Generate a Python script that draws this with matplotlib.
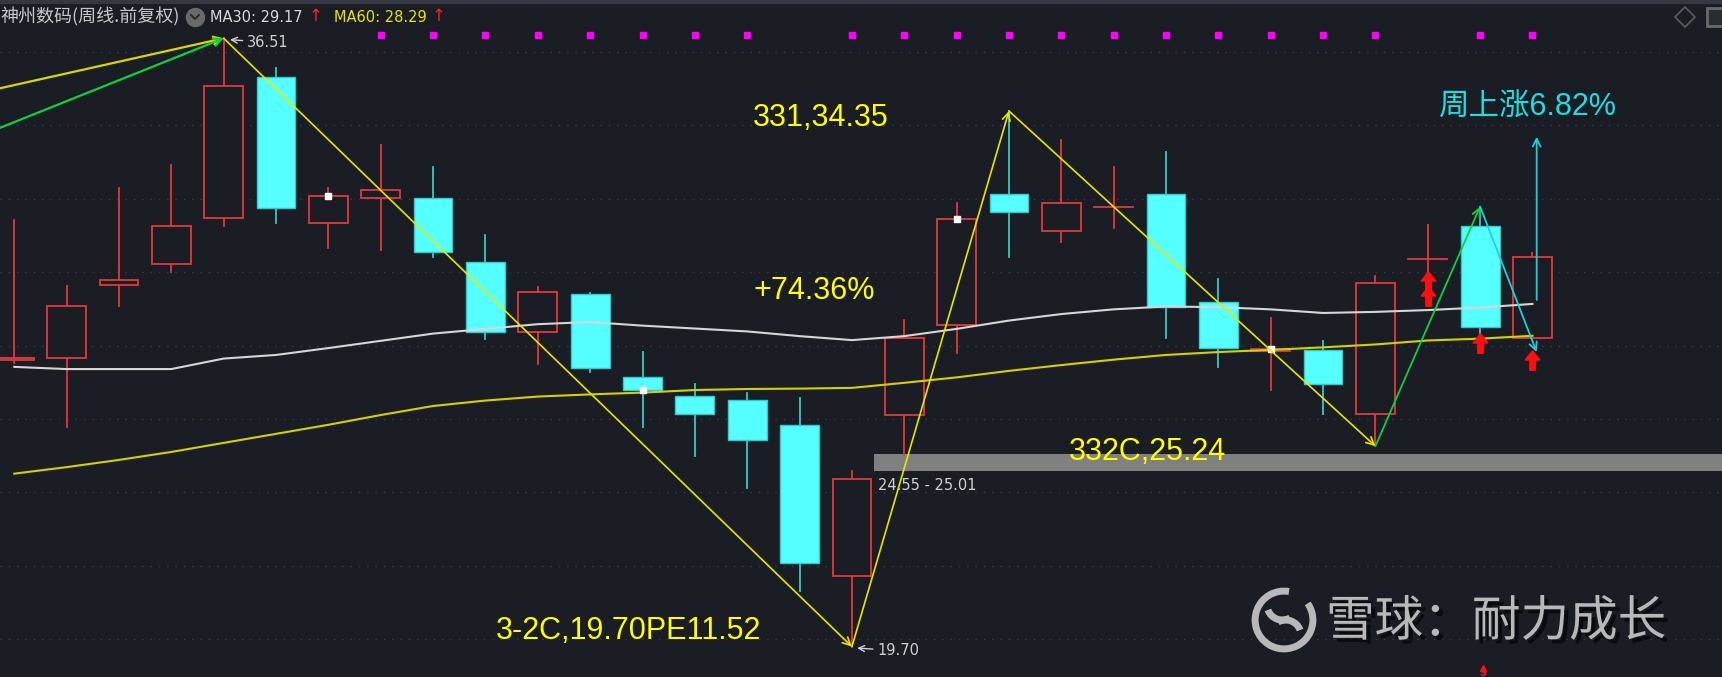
import numpy as np
import matplotlib
matplotlib.use('Agg')
import matplotlib.pyplot as plt
from matplotlib.patches import Rectangle, Arc
from matplotlib.path import Path
import matplotlib.patheffects as pe
import matplotlib.transforms as mtransforms

plt.rcParams['font.family'] = ['DejaVu Sans', 'Noto Sans CJK SC']

# 周K线 (前复权), 30根
opens  = [27.62, 27.67, 29.69, 30.27, 31.54, 35.45, 31.40, 32.09, 32.11, 30.34,
          28.40, 29.44, 27.16, 26.63, 26.51, 25.83, 21.65, 26.10, 28.60, 32.20,
          31.19, 31.86, 32.20, 29.22, 27.87, 27.90, 26.13, 30.40, 31.32, 28.23]
highs  = [31.49, 29.67, 32.37, 33.02, 36.51, 35.68, 32.36, 33.56, 32.95, 31.07,
          29.65, 29.46, 27.85, 26.96, 26.71, 26.56, 24.55, 28.73, 31.97, 34.50,
          33.70, 32.96, 33.38, 29.85, 28.77, 28.15, 29.94, 31.35, 31.86, 30.57]
lows   = [27.53, 25.76, 29.11, 30.06, 31.31, 31.40, 30.72, 30.66, 30.47, 28.19,
          27.50, 27.28, 25.78, 24.98, 24.09, 21.24, 19.70, 25.01, 27.81, 30.47,
          30.89, 31.26, 28.22, 27.43, 26.79, 26.12, 25.24, 29.11, 28.36, 28.18]
closes = [27.68, 29.12, 29.83, 31.32, 35.20, 31.81, 32.16, 32.32, 30.60, 28.40,
          29.51, 27.41, 26.79, 26.14, 25.41, 22.02, 24.32, 28.22, 31.51, 31.72,
          31.95, 31.86, 29.09, 27.94, 27.92, 26.95, 29.76, 30.40, 28.54, 30.46]

ma30 = [27.43, 27.37, 27.37, 27.37, 27.66, 27.76, 27.95, 28.15, 28.35, 28.48,
        28.61, 28.67, 28.57, 28.49, 28.41, 28.28, 28.17, 28.28, 28.48, 28.71,
        28.89, 29.02, 29.10, 29.08, 29.02, 28.92, 28.95, 29.00, 29.07, 29.17]
ma60 = [24.48, 24.66, 24.86, 25.08, 25.33, 25.58, 25.83, 26.10, 26.35, 26.50,
        26.61, 26.67, 26.72, 26.79, 26.82, 26.83, 26.85, 26.99, 27.14, 27.32,
        27.48, 27.63, 27.76, 27.84, 27.90, 27.97, 28.05, 28.16, 28.21, 28.29]

grid_levels = [19.906, 21.934, 23.962, 25.990, 28.018, 30.047, 32.075, 34.103, 36.131]
dot_weeks = [7, 8, 9, 10, 11, 12, 13, 14, 16, 17, 18, 19, 20, 21, 22, 23, 24, 25, 26, 28, 29]
square_weeks = [6, 12, 18, 24]
signal_x = [27, 27, 28, 29]
signal_y = [29.80, 29.40, 28.08, 27.62]

# 波段连线
yellow_wave = [(4, 36.51), (16, 19.70), (19, 34.50), (26, 25.24)]
green_wave = [(26, 25.24), (28, 31.86)]
cyan_wave = [(28, 31.86), (29.08, 27.84)]
lead_yellow = [(-0.3, 35.12), (4, 36.51)]
lead_green = [(-0.3, 34.02), (4, 36.51)]
gap_low, gap_high = 24.55, 25.01

BG = '#1b1d25'
RED = '#e23a3a'
CYAN = '#55ffff'
CYAN_EDGE = '#3cc6c8'

W, H = 1722, 677
fig = plt.figure(figsize=(W / 100, H / 100), dpi=100, facecolor=BG)
ax = fig.add_axes([0, 0, 1, 1])
ax.set_facecolor(BG)
ax.set_xlim(-0.273, 32.62)
ax.set_ylim(18.861, 37.568)
ax.axis('off')

def px(x, y):
    return x / W, 1 - y / H

for g in grid_levels:
    ax.axhline(g, color='#3c3f4a', lw=1.0, ls=(0, (1, 5)), zorder=0)

# gap zone
ax.fill_between([16.42, 33], gap_low, gap_high, color='#808080', lw=0, zorder=1)

bw = 0.74
for i, (o, h, l, c) in enumerate(zip(opens, highs, lows, closes)):
    top, bot = max(o, c), min(o, c)
    if c >= o:
        ax.plot([i, i], [top, h], color=RED, lw=1.3, zorder=2)
        ax.plot([i, i], [l, bot], color=RED, lw=1.3, zorder=2)
        if c == o:
            ax.plot([i - bw / 2, i + bw / 2], [c, c], color=RED, lw=1.3, zorder=2)
        else:
            ax.add_patch(Rectangle((i - bw / 2, bot), bw, top - bot, facecolor=BG,
                                   edgecolor=RED, lw=1.3, zorder=2))
    else:
        ax.plot([i, i], [l, h], color=CYAN_EDGE, lw=1.3, zorder=2)
        ax.add_patch(Rectangle((i - bw / 2, bot), bw, top - bot, facecolor=CYAN,
                               edgecolor=CYAN_EDGE, lw=1.0, zorder=2))

x = np.arange(len(closes))
ax.plot(x, ma30, color='#d6d6d6', lw=1.5, zorder=3)
ax.plot(x, ma60, color='#d2d200', lw=1.5, zorder=3)

ax.plot(square_weeks, [closes[i] for i in square_weeks], 's', color='white',
        ms=4.5, zorder=5)

# magenta dots at top
trans = mtransforms.blended_transform_factory(ax.transData, ax.transAxes)
ax.plot(dot_weeks, [1 - 35 / H] * len(dot_weeks), 's', color='#ff00ff', ms=3.8,
        transform=trans, zorder=5)

# red up-arrow signals
arrow_path = Path([(0, 1), (0.75, 0.05), (0.28, 0.05), (0.28, -1), (-0.28, -1),
                   (-0.28, 0.05), (-0.75, 0.05), (0, 1)])
ax.plot(signal_x, signal_y, ls='none', marker=arrow_path, color='#ff1010',
        ms=14, zorder=6)

def wave(pts, color, lw=1.2):
    for (x0, y0), (x1, y1) in zip(pts[:-1], pts[1:]):
        ax.annotate('', xy=(x1, y1), xytext=(x0, y0),
                    arrowprops=dict(arrowstyle='->', color=color, lw=lw,
                                    shrinkA=0, shrinkB=0, mutation_scale=14),
                    zorder=7)

wave(lead_yellow, '#d8d800', 1.6)
wave(lead_green, '#10d040', 1.6)
wave(yellow_wave, '#e6e600', 1.2)
wave(green_wave, '#10d040', 1.3)
wave(cyan_wave, '#20d0d8', 1.3)
ax.annotate('', xy=(29.08, 33.79), xytext=(29.08, 29.28),
            arrowprops=dict(arrowstyle='->', color='#20d0d8', lw=1.3,
                            shrinkA=0, shrinkB=0, mutation_scale=14), zorder=7)

# high / low marks
ax.annotate('36.51', xy=(4.12, 36.47), xytext=(4.44, 36.40), color='#d0d0d0',
            fontsize=10.5, va='center',
            arrowprops=dict(arrowstyle='->', color='#d0d0d0', lw=1, shrinkA=1, shrinkB=0))
ax.annotate('19.70', xy=(16.1, 19.66), xytext=(16.48, 19.59), color='#d0d0d0',
            fontsize=10.5, va='center',
            arrowprops=dict(arrowstyle='->', color='#d0d0d0', lw=1, shrinkA=1, shrinkB=0))
ax.text(16.5, 24.14, '24.55 - 25.01', color='#d0d0d0', fontsize=10.5, va='center')

big = dict(family=['Liberation Sans', 'Noto Sans CJK SC'], fontsize=22,
           ha='center', va='center', zorder=8)
ax.text(15.41, 34.32, '331,34.35', color='#ffff00', **big)
ax.text(15.28, 29.53, '+74.36%', color='#ffff00', **big)
ax.text(11.73, 20.13, '3-2C,19.70PE11.52', color='#ffff00', **big)
ax.text(21.65, 25.08, '332C,25.24', color='#ffff00', **big)
ax.text(28.92, 34.60, '周上涨6.82%', color='#20dde0', **big)

# header
ax.plot([0, 1], [1 - 1.5 / H] * 2, color='#353842', lw=3, transform=ax.transAxes)
ax.text(*px(0, 17), '神州数码(周线.前复权)', color='#c8c8c8', fontsize=13,
        family=['Noto Sans CJK SC', 'DejaVu Sans'], va='center', transform=ax.transAxes)
ax.plot(*px(195, 17), 'o', ms=13, color='#6a6a6a', transform=ax.transAxes)
ax.plot([px(191, 0)[0], px(195, 0)[0], px(199, 0)[0]],
        [px(0, 15)[1], px(0, 19)[1], px(0, 15)[1]], color='#2a2a2a', lw=1.4,
        transform=ax.transAxes)
ax.text(*px(210, 17), 'MA30: 29.17', color='#d8d8d8', fontsize=10.5, va='center',
        transform=ax.transAxes)
ax.text(*px(309, 16), '↑', color='#ff2020', fontsize=12, va='center',
        transform=ax.transAxes)
ax.text(*px(334, 17), 'MA60: 28.29', color='#e6e600', fontsize=10.5, va='center',
        transform=ax.transAxes)
ax.text(*px(432, 16), '↑', color='#ff2020', fontsize=12, va='center',
        transform=ax.transAxes)
ax.plot(*px(1685, 17), 'D', ms=10, mfc='none', mec='#5c5c5c', mew=1.2,
        transform=ax.transAxes)
ax.plot(*px(1716, 17), 's', ms=13, mfc='#2a2c34', mec='#6a6a6a', mew=2,
        transform=ax.transAxes)

# bottom signal mark
ax.plot(28.06, 19.10, '^', color='#ff1010', ms=4)
ax.text(28.06, 18.98, 'S', color='#ff1010', fontsize=7, ha='center', va='center',
        fontweight='bold')

# watermark
shadow = [pe.withSimplePatchShadow(offset=(3, -3), shadow_rgbFace='black', alpha=0.6)]
ax.text(*px(1326, 622), '雪球：耐力成长', color='#b8b8b8', fontsize=35,
        family=['Noto Sans CJK SC'], va='center', transform=ax.transAxes,
        path_effects=shadow)
lax = fig.add_axes([(1284 - 34) / W, (H - 620 - 34) / H, 68 / W, 68 / H])
lax.set_xlim(-1, 1)
lax.set_ylim(-1, 1)
lax.axis('off')
lax.add_patch(Arc((0, 0), 1.7, 1.7, theta1=80, theta2=395, color='#b8b8b8', lw=5))
lax.add_patch(Arc((-0.05, 0.45), 0.9, 0.9, theta1=200, theta2=300, color='#b8b8b8', lw=5))
lax.add_patch(Arc((0.05, -0.45), 0.9, 0.9, theta1=20, theta2=120, color='#b8b8b8', lw=5))

fig.savefig('out.png', dpi=100, facecolor=BG)
